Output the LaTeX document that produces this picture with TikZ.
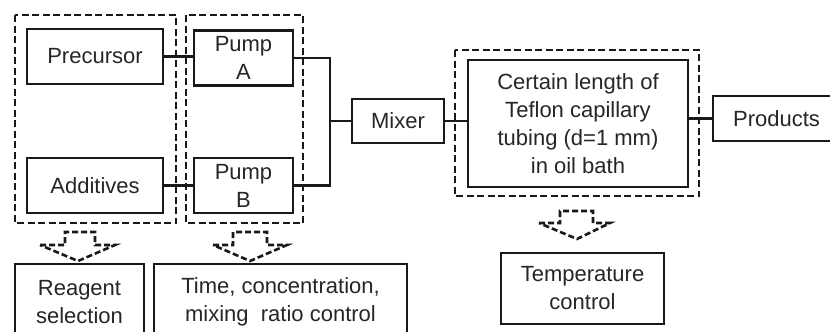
\documentclass[tikz,border=0pt]{standalone}
\usepackage{fontspec}
\setmainfont{Liberation Sans}
\begin{document}
\begin{tikzpicture}[x=1pt,y=-1pt,
  box/.style={draw=black!90, line width=2.6pt, rectangle, inner sep=0pt, align=center,
    text=black!85, font=\fontsize{22}{28}\selectfont},
  dashbox/.style={draw=black!90, line width=2.8pt, dash pattern=on 7pt off 3.5pt},
  hollowarrow/.style={draw=black!90, line width=2.6pt, dash pattern=on 6pt off 3pt, line join=miter},
  conn/.style={draw=black!90, line width=2.4pt}]
\useasboundingbox (0,0) rectangle (830,332);
\clip (0,0) rectangle (830,332);
\fill[white] (0,0) rectangle (830,332);

% groups
\draw[dashbox] (15,15) rectangle (176,223);
\draw[dashbox] (186,15) rectangle (303,223);
\draw[dashbox] (455,50) rectangle (699,196);

% nodes
\node[box, minimum width=136pt, minimum height=55pt] (prec) at (95,56.5) {Precursor};
\node[box, minimum width=136pt, minimum height=55pt] (addi) at (95,185.5) {Additives};
\node[box, minimum width=99pt, minimum height=55pt] (pumpA) at (243.5,58) {Pump\\A};
\node[box, minimum width=99pt, minimum height=55pt] (pumpB) at (243.5,185.5) {Pump\\B};
\node[box, minimum width=92pt, minimum height=44pt] (mixer) at (398,121) {Mixer};
\node[box, minimum width=220pt, minimum height=127pt] (tube) at (578,123.5)
  {Certain length of\\Teflon capillary\\tubing (d=1 mm)\\in oil bath};
\node[box, minimum width=127pt, minimum height=45pt] (prod) at (776.5,118.5) {Products};
\node[box, minimum width=163pt, minimum height=71pt] (temp) at (582.5,288.5) {Temperature\\control};
\node[box, minimum width=129pt, minimum height=76pt] (reag) at (79.5,302) {Reagent\\selection};
\node[box, minimum width=253pt, minimum height=76pt] (time) at (280.5,302)
  {Time, concentration,\\mixing\ \ ratio control};

% connectors
\coordinate (j) at (330,121);
\draw[conn] (prec.east) -- (prec.east -| pumpA.west);
\draw[conn] (addi.east) -- (addi.east -| pumpB.west);
\draw[conn] (pumpA.east) -| (j) |- (pumpB.east);
\draw[conn] (j) -- (mixer.west);
\draw[conn] (mixer.east) -- (mixer.east -| tube.west);
\draw[conn] (prod.west -| tube.east) -- (prod.west);

% hollow dashed arrows
\draw[hollowarrow] (40,245) -- (65,245) -- (65,232) -- (95,232) -- (95,245) -- (115,245) -- (78,261) -- cycle;
\draw[hollowarrow] (213,245) -- (233,245) -- (233,232) -- (267,232) -- (267,245) -- (287,245) -- (250,261) -- cycle;
\draw[hollowarrow] (539,223) -- (560,223) -- (560,211) -- (593,211) -- (593,223) -- (610,223) -- (577,239) -- cycle;
\end{tikzpicture}
\end{document}
